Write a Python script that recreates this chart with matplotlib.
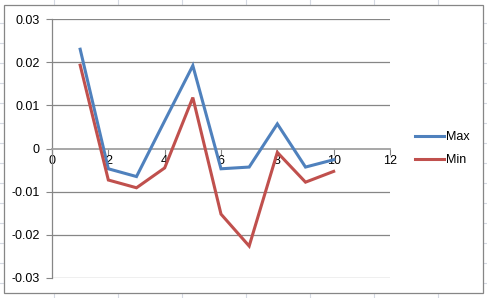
import numpy as np
import matplotlib
matplotlib.use('Agg')
import matplotlib.pyplot as plt
from matplotlib.patches import Rectangle
from matplotlib.lines import Line2D

# data
x_vals = [1, 2, 3, 4, 5, 6, 7, 8, 9, 10]
max_vals = [0.0230, -0.0047, -0.0065, 0.0064, 0.0192, -0.0047, -0.0043, 0.0057, -0.0043, -0.0026]
min_vals = [0.0193, -0.0073, -0.0091, -0.0045, 0.0118, -0.0152, -0.0226, -0.0009, -0.0078, -0.0053]
y_ticks = [-0.03, -0.02, -0.01, 0, 0.01, 0.02, 0.03]
y_labels = ['-0.03', '-0.02', '-0.01', '0', '0.01', '0.02', '0.03']
x_ticks = [0, 2, 4, 6, 8, 10, 12]

W, H = 487, 298
plt.rcParams['font.family'] = ['Liberation Sans', 'DejaVu Sans']
fig = plt.figure(figsize=(W/100, H/100), dpi=100)
fig.patch.set_facecolor('white')

## spreadsheet cell grid behind the chart
cell = '#D4D9E2'
for px in np.arange(54, W, 64):
    fig.add_artist(Line2D([px/W, px/W], [0, 1], color=cell, lw=0.8, zorder=-3))
for py in np.arange(23, H, 20):
    fig.add_artist(Line2D([0, 1], [1-py/H, 1-py/H], color=cell, lw=0.8, zorder=-3))
## chart area
fig.add_artist(Rectangle((4/W, 1-293/H), 479/W, 288/H, facecolor='white',
                         edgecolor='#868686', lw=0.9, zorder=-2))

ax = fig.add_axes([52/W, 1-278/H, 338/W, 259/H])
ax.set_facecolor('none')
ax.plot(x_vals, max_vals, color='#4F81BD', lw=2.2, label='Max', solid_joinstyle='miter', zorder=3)
ax.plot(x_vals, min_vals, color='#C0504D', lw=2.2, label='Min', solid_joinstyle='miter', zorder=3)

ax.set_xlim(0, 12)
ax.set_ylim(-0.03, 0.03)
ax.set_yticks(y_ticks)
ax.set_yticklabels(y_labels)
ax.set_xticks(x_ticks)
ax.set_xticklabels([str(v) for v in x_ticks])
for yv in y_ticks:
    if yv != 0:
        ax.axhline(yv, color='#868686', lw=0.9, zorder=1)

for s in ['top', 'right']:
    ax.spines[s].set_visible(False)
ax.spines['left'].set_color('#868686')
ax.spines['left'].set_linewidth(0.9)
ax.spines['bottom'].set_position(('data', 0))
ax.spines['bottom'].set_color('#A0A0A0')
ax.spines['bottom'].set_linewidth(1.3)
ax.tick_params(axis='y', direction='out', length=4, color='#868686', labelsize=9, pad=5)
ax.tick_params(axis='x', direction='out', length=4, color='#868686', labelsize=9, pad=1)

ax.legend(loc='center left', bbox_to_anchor=(1.075, 0.5), frameon=False, fontsize=9,
          handlelength=2.3, handletextpad=0.15, labelspacing=0.9,
          borderaxespad=0, borderpad=0)

plt.savefig('out.png', dpi=100)
